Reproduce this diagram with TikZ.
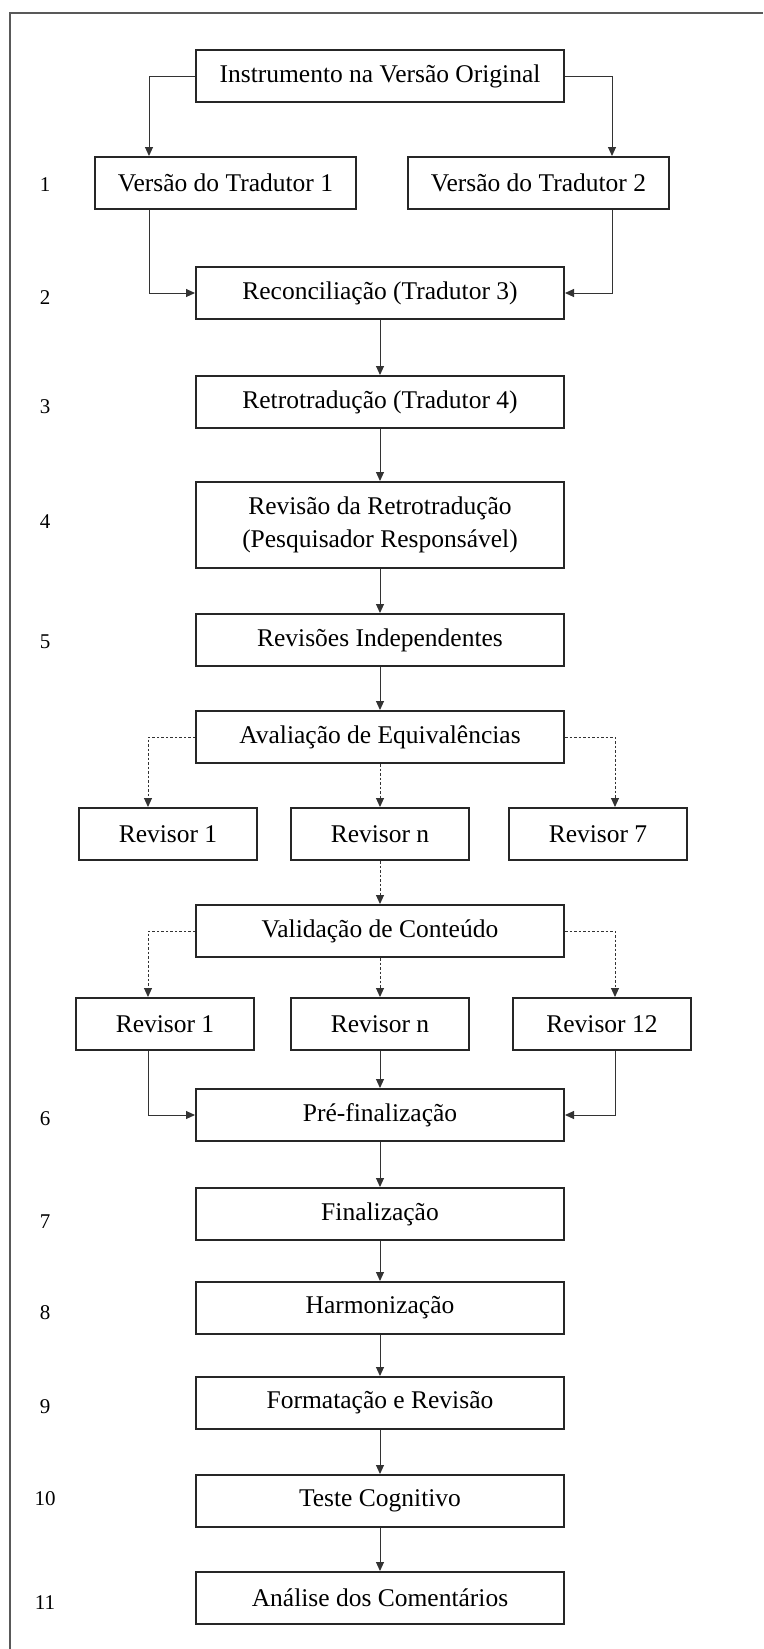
\documentclass[tikz,border=0pt]{standalone}
\usepackage{fontspec}
\setmainfont{Liberation Serif}
\usetikzlibrary{positioning,arrows.meta}

\begin{document}
\begin{tikzpicture}[
    x=1pt, y=-1pt,
    box/.style={draw=black!85, line width=2pt, minimum height=52pt, inner sep=0pt, align=center, font=\fontsize{25.5}{33}\selectfont},
    mainbox/.style={box, minimum width=368pt},
    revbox/.style={box, minimum width=178pt},
    num/.style={font=\fontsize{21}{24}\selectfont},
    arr/.style={-{Triangle[length=9pt, width=8pt]}, line width=1pt, draw=black!80},
    darr/.style={arr, dash pattern=on 2.5pt off 2pt}
]
\useasboundingbox (0,0) rectangle (763,1649);
\draw[line width=2pt, black!65] (10,1649) -- (10,13) -- (763,13);

\node[mainbox] (orig) at (380,76) {Instrumento na Versão Original};
\node[box, minimum width=261pt] (t1) at (225.5,183) {Versão do Tradutor 1};
\node[box, minimum width=261pt, right=50pt of t1] (t2) {Versão do Tradutor 2};
\node[mainbox, below=163pt of orig] (recon) {Reconciliação (Tradutor 3)};
\node[mainbox, below=55pt of recon] (retro) {Retrotradução (Tradutor 4)};
\node[mainbox, below=52pt of retro, minimum height=86pt] (revis) {Revisão da Retrotradução\\(Pesquisador Responsável)};
\node[mainbox, below=44pt of revis] (indep) {Revisões Independentes};
\node[mainbox, below=43pt of indep] (aval) {Avaliação de Equivalências};
\node[revbox, below=43pt of aval] (rna) {Revisor n};
\node[revbox, left=32pt of rna] (r1a) {Revisor 1};
\node[revbox, right=38pt of rna] (r7a) {Revisor 7};
\node[mainbox, below=43pt of rna] (valid) {Validação de Conteúdo};
\node[revbox, below=39pt of valid] (rnb) {Revisor n};
\node[revbox, left=35pt of rnb] (r1b) {Revisor 1};
\node[revbox, right=42pt of rnb] (r12b) {Revisor 12};
\node[mainbox, below=37pt of rnb] (pre) {Pré-finalização};
\node[mainbox, below=45pt of pre] (fin) {Finalização};
\node[mainbox, below=40pt of fin] (harm) {Harmonização};
\node[mainbox, below=41pt of harm] (form) {Formatação e Revisão};
\node[mainbox, below=44pt of form] (teste) {Teste Cognitivo};
\node[mainbox, below=43pt of teste] (anal) {Análise dos Comentários};

\foreach \n/\y in {1/185, 2/298, 3/407, 4/522, 5/642, 6/1119, 7/1222, 8/1313, 9/1407, 10/1499, 11/1603}
    \node[num] (s\n) at (45,\y) {\n};

\coordinate (tl) at (149,0);
\coordinate (tr) at (612,0);
\coordinate (ql) at (148,0);
\coordinate (qr) at (615,0);

\draw[arr] (orig.west) -| (tl |- t1.north);
\draw[arr] (orig.east) -| (tr |- t2.north);
\draw[arr] (tl |- t1.south) |- (recon.west);
\draw[arr] (tr |- t2.south) |- (recon.east);
\draw[arr] (recon) -- (retro);
\draw[arr] (retro) -- (revis);
\draw[arr] (revis) -- (indep);
\draw[arr] (indep) -- (aval);

\draw[darr] (aval.west) -| (ql |- r1a.north);
\draw[darr] (aval) -- (rna);
\draw[darr] (aval.east) -| (qr |- r7a.north);
\draw[darr] (rna) -- (valid);
\draw[darr] (valid.west) -| (ql |- r1b.north);
\draw[darr] (valid) -- (rnb);
\draw[darr] (valid.east) -| (qr |- r12b.north);

\draw[arr] (ql |- r1b.south) |- (pre.west);
\draw[arr] (rnb) -- (pre);
\draw[arr] (qr |- r12b.south) |- (pre.east);
\draw[arr] (pre) -- (fin);
\draw[arr] (fin) -- (harm);
\draw[arr] (harm) -- (form);
\draw[arr] (form) -- (teste);
\draw[arr] (teste) -- (anal);

\end{tikzpicture}
\end{document}
